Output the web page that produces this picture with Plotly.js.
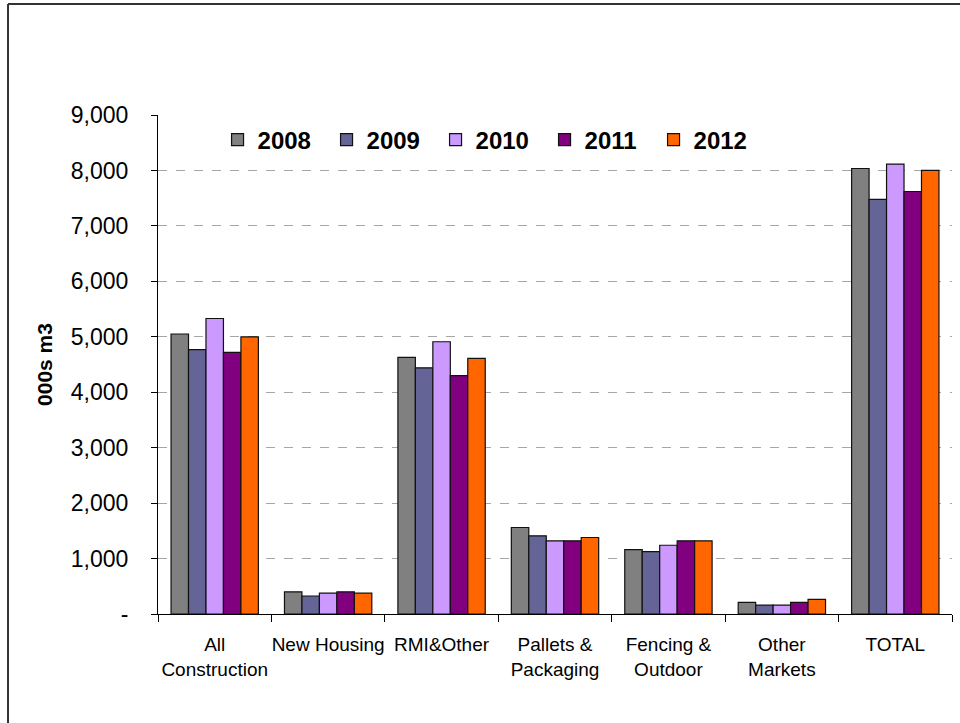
<!DOCTYPE html>
<html>
<head>
<meta charset="utf-8">
<script src="https://cdn.plot.ly/plotly-3.0.1.min.js"></script>
<style>html,body{margin:0;padding:0;background:#fff;}#chart{width:960px;height:723px;}</style>
</head>
<body>
<div id="chart"></div>
<script>
var categories = ["All<br>Construction", "New Housing", "RMI&Other", "Pallets &<br>Packaging", "Fencing &<br>Outdoor", "Other<br>Markets", "TOTAL"];
var years = ["2008", "2009", "2010", "2011", "2012"];
var v2008 = [5050, 400, 4630, 1560, 1160, 210, 8035];
var v2009 = [4770, 325, 4440, 1410, 1125, 160, 7480];
var v2010 = [5330, 375, 4910, 1320, 1240, 160, 8115];
var v2011 = [4720, 400, 4300, 1320, 1320, 210, 7620];
var v2012 = [5000, 375, 4610, 1380, 1320, 265, 8000];
var yTickVals = [0, 1000, 2000, 3000, 4000, 5000, 6000, 7000, 8000, 9000];
var yTickText = ["-", "1,000", "2,000", "3,000", "4,000", "5,000", "6,000", "7,000", "8,000", "9,000"];

var series = [v2008, v2009, v2010, v2011, v2012];
var colors = ["#808080", "#646496", "#CC99FF", "#800080", "#FF6600"];

var traces = series.map(function (vals, i) {
  return {
    type: "bar",
    name: years[i],
    x: categories,
    y: vals,
    marker: { color: colors[i], line: { color: "#111111", width: 1.2 } },
    hoverinfo: "x+y+name"
  };
});

var FONT = "Liberation Sans, Arial, sans-serif";

var layout = {
  width: 960,
  height: 723,
  paper_bgcolor: "#ffffff",
  plot_bgcolor: "#ffffff",
  margin: { l: 158, r: 8, t: 115, b: 109, pad: 0 },
  barmode: "group",
  bargap: 0.23,
  bargroupgap: 0,
  font: { family: FONT, color: "#000000" },
  showlegend: true,
  legend: {
    orientation: "h",
    x: 0.075,
    xanchor: "left",
    y: 0.995,
    yanchor: "top",
    bgcolor: "rgba(255,255,255,0)",
    borderwidth: 0,
    font: { family: FONT, size: 24, color: "#000000", weight: "bold" },
    itemwidth: 30,
    entrywidth: 64,
    traceorder: "normal"
  },
  xaxis: {
    type: "category",
    showgrid: false,
    showline: true,
    linecolor: "#000000",
    linewidth: 1,
    ticks: "outside",
    tickson: "boundaries",
    ticklen: 7,
    tickcolor: "#000000",
    tickangle: 0,
    tickfont: { family: FONT, size: 19, color: "#000000" },
    ticklabelstandoff: 13,
    fixedrange: true
  },
  yaxis: {
    range: [0, 9000],
    tickvals: yTickVals,
    ticktext: yTickText,
    showgrid: true,
    gridcolor: "#a6a6a6",
    griddash: "dash",
    gridwidth: 1,
    zeroline: false,
    showline: true,
    linecolor: "#000000",
    linewidth: 1,
    ticks: "outside",
    ticklen: 6,
    tickcolor: "#000000",
    tickfont: { family: FONT, size: 23, color: "#000000" },
    ticklabelstandoff: 18,
    title: { text: "000s m3", font: { family: FONT, size: 21, color: "#000000", weight: "bold" }, standoff: 12 },
    fixedrange: true
  },
  shapes: [
    { type: "rect", xref: "paper", yref: "paper", layer: "between", x0: 0.072, x1: 0.761, y0: 0.99, y1: 1.01, fillcolor: "#ffffff", line: { width: 0 } },
    { type: "line", xref: "paper", yref: "paper", x0: -0.1889, x1: -0.1889, y0: -0.3, y1: 1.2222, line: { color: "#333333", width: 2 } },
    { type: "line", xref: "paper", yref: "paper", x0: -0.1889, x1: 1.012, y0: 1.2222, y1: 1.2222, line: { color: "#333333", width: 2 } }
  ]
};

Plotly.newPlot("chart", traces, layout, { displayModeBar: false, staticPlot: true });
</script>
</body>
</html>
